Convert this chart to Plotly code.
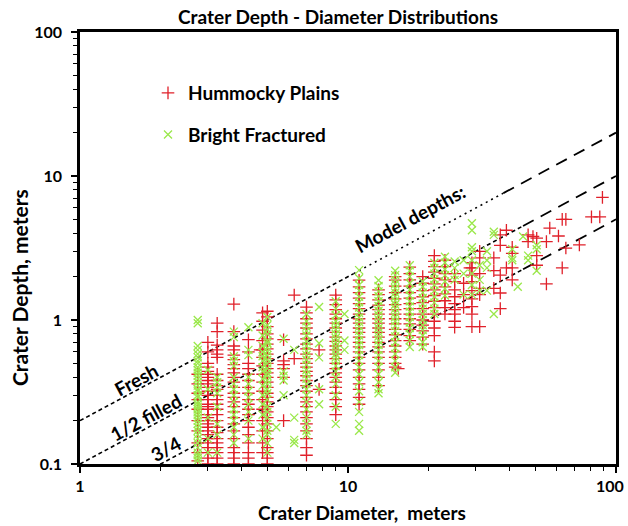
import math
import plotly.graph_objects as go

# ---------------- data ----------------
hummocky_diam = [2.75, 3.0, 3.25, 3.75, 4.25, 4.7, 4.8, 5.0, 5.75, 6.3, 7.0, 7.8, 9.0,
                 11.0, 13.0, 15.0, 15.4, 17.0, 19.0, 21.0, 23.0, 25.0, 27.0, 28.5, 29.0,
                 31.0, 35.0, 37.0, 39.0, 41.0, 47.0, 49.0, 50.6, 55.0, 56.6, 61.0, 63.0,
                 65.0, 73.0, 81.0, 87.0, 89.0]
hummocky_depths = [
    [0.42, 0.36, 0.31, 0.28, 0.24, 0.20, 0.17, 0.14, 0.12, 0.105],
    [0.70, 0.60, 0.50, 0.47, 0.44, 0.42, 0.40, 0.38, 0.36, 0.34, 0.32, 0.30, 0.28, 0.26, 0.25,
     0.24, 0.22, 0.21, 0.20, 0.19, 0.18, 0.17, 0.16, 0.15, 0.14, 0.13, 0.12, 0.11, 0.10],
    [0.95, 0.83, 0.67, 0.62, 0.58, 0.55, 0.42, 0.38, 0.35, 0.33, 0.30, 0.28, 0.26, 0.24, 0.22,
     0.20, 0.18, 0.165, 0.15, 0.14, 0.13, 0.12, 0.11, 0.10],
    [1.29, 0.83, 0.66, 0.62, 0.57, 0.53, 0.49, 0.46, 0.43, 0.40, 0.37, 0.34, 0.31, 0.29, 0.27,
     0.25, 0.23, 0.21, 0.19, 0.17, 0.15, 0.13, 0.12, 0.11, 0.10],
    [0.73, 0.60, 0.50, 0.46, 0.42, 0.38, 0.34, 0.31, 0.28, 0.26, 0.24, 0.22, 0.20, 0.18, 0.16,
     0.14, 0.12, 0.11, 0.10],
    [0.62],
    [1.12, 0.98, 0.85, 0.72, 0.62, 0.55, 0.48, 0.42, 0.37, 0.32, 0.28, 0.24, 0.20, 0.17, 0.14, 0.12],
    [1.15, 1.05, 0.90, 0.80, 0.74, 0.68, 0.63, 0.58, 0.54, 0.50, 0.46, 0.43, 0.40, 0.37, 0.34,
     0.31, 0.29, 0.27, 0.25, 0.23, 0.21, 0.19, 0.17, 0.15, 0.13, 0.12, 0.11, 0.10],
    [0.73, 0.52, 0.49, 0.46, 0.40, 0.20],
    [1.49, 0.54],
    [1.23, 1.12, 1.02, 0.95, 0.88, 0.80, 0.74, 0.68, 0.63, 0.58, 0.54, 0.50, 0.47, 0.44, 0.41,
     0.38, 0.35, 0.32, 0.29, 0.27, 0.25, 0.23, 0.21, 0.19, 0.17, 0.15, 0.13, 0.115],
    [0.62, 0.33],
    [1.49, 1.38, 1.28, 1.18, 1.10, 1.02, 0.95, 0.88, 0.82, 0.76, 0.71, 0.66, 0.62, 0.58, 0.54,
     0.50, 0.46, 0.43, 0.40, 0.37, 0.34, 0.31, 0.28, 0.25, 0.22],
    [1.89, 1.70, 1.55, 1.42, 1.30, 1.20, 1.10, 1.02, 0.95, 0.88, 0.82, 0.76, 0.70, 0.65, 0.60,
     0.55, 0.50, 0.45, 0.40, 0.36, 0.33, 0.29, 0.26],
    [1.62, 1.50, 1.38, 1.27, 1.18, 1.10, 1.02, 0.95, 0.88, 0.82, 0.76, 0.70, 0.65, 0.60, 0.55,
     0.50, 0.45, 0.40, 0.35],
    [2.00, 1.89, 1.72, 1.55, 1.40, 1.28, 1.18, 1.10, 1.02, 0.94, 0.86, 0.79, 0.72, 0.66, 0.60,
     0.55, 0.50, 0.47],
    [0.46],
    [2.33, 2.10, 1.90, 1.72, 1.55, 1.42, 1.30, 1.20, 1.10, 1.02, 0.94, 0.86, 0.78, 0.72],
    [2.00, 1.80, 1.60, 1.45, 1.32, 1.20, 1.10, 1.00, 0.92, 0.84, 0.76, 0.68],
    [2.80, 2.55, 2.35, 2.15, 1.95, 1.78, 1.62, 1.48, 1.35, 1.22, 1.10, 0.98, 0.88, 0.78, 0.60, 0.52],
    [2.60, 2.35, 2.10, 1.90, 1.70, 1.52, 1.36, 1.22, 1.10],
    [2.10, 1.85, 1.62, 1.45, 1.30, 1.18, 1.10, 0.98, 0.89],
    [1.80, 1.50, 1.22],
    [2.30],
    [2.50, 2.30, 2.05, 1.85, 1.60, 1.40, 1.24, 1.10, 0.90],
    [3.00, 2.70, 2.10, 1.66, 1.50, 0.90],
    [2.70, 2.20, 1.66],
    [3.90, 3.30, 2.05, 1.54, 1.20],
    [4.20, 2.30],
    [3.20, 2.90, 2.30, 1.90],
    [3.90, 3.50],
    [3.80],
    [3.70, 2.80, 2.40],
    [3.50, 1.78],
    [4.35],
    [3.83],
    [5.00, 2.30],
    [5.00, 3.16],
    [3.32],
    [5.20],
    [5.20],
    [7.10],
]

bright_diam = [2.75, 3.0, 3.25, 3.75, 4.25, 4.8, 5.0, 5.4, 5.75, 6.3, 7.0, 7.8, 9.0, 9.7,
               11.0, 13.0, 15.0, 17.0, 19.0, 21.0, 23.0, 25.0, 27.0, 29.0, 31.0, 33.0,
               35.0, 41.0, 43.0, 45.0, 47.0, 50.6]
bright_depths = [
    [1.00, 0.95, 0.66, 0.62, 0.58, 0.55, 0.52, 0.50, 0.47, 0.45, 0.43, 0.41, 0.39, 0.37, 0.35,
     0.33, 0.32, 0.30, 0.29, 0.27, 0.26, 0.25, 0.24, 0.23, 0.22, 0.21, 0.20, 0.19, 0.18, 0.17,
     0.16, 0.15, 0.14, 0.13, 0.12, 0.115, 0.11, 0.105],
    [0.45, 0.33, 0.21, 0.15, 0.12],
    [0.40, 0.37, 0.34, 0.31, 0.25, 0.19, 0.16, 0.12],
    [0.83, 0.76, 0.56, 0.52, 0.48, 0.40, 0.36, 0.33, 0.30, 0.27, 0.24, 0.22, 0.20, 0.18, 0.16, 0.14],
    [0.89, 0.62, 0.57, 0.40, 0.36, 0.32, 0.29, 0.26, 0.23, 0.20, 0.15],
    [0.95, 0.78, 0.66, 0.60, 0.56, 0.52, 0.47, 0.44, 0.39, 0.35, 0.30, 0.26, 0.22, 0.18, 0.15],
    [1.05, 0.92, 0.86, 0.80, 0.72, 0.69, 0.64, 0.61, 0.57, 0.53, 0.50, 0.46, 0.43, 0.41, 0.38,
     0.36, 0.33, 0.31, 0.28, 0.25, 0.23, 0.21, 0.19, 0.17, 0.16, 0.14, 0.12],
    [0.18],
    [0.74, 0.44, 0.41, 0.38, 0.30],
    [0.62, 0.21, 0.147, 0.14],
    [1.10, 0.98, 0.90, 0.84, 0.78, 0.71, 0.66, 0.61, 0.57, 0.53, 0.49, 0.45, 0.42, 0.39, 0.36,
     0.33, 0.30, 0.27, 0.24, 0.21, 0.19, 0.17, 0.16],
    [1.23, 0.69, 0.55, 0.33, 0.26],
    [1.35, 1.20, 1.08, 0.98, 0.92, 0.86, 0.80, 0.75, 0.70, 0.66, 0.62, 0.58, 0.55, 0.52, 0.48,
     0.44, 0.40, 0.36, 0.30, 0.25, 0.19],
    [1.10, 0.72, 0.62],
    [2.22, 1.95, 1.75, 1.60, 1.45, 1.33, 1.22, 1.12, 1.04, 0.97, 0.90, 0.84, 0.78, 0.72, 0.67,
     0.62, 0.57, 0.52, 0.47, 0.42, 0.37, 0.32, 0.27, 0.23, 0.19, 0.17],
    [1.89, 1.72, 1.58, 1.46, 1.35, 1.25, 1.16, 1.08, 1.01, 0.94, 0.88, 0.82, 0.77, 0.72, 0.67,
     0.62, 0.57, 0.52, 0.47, 0.42, 0.37, 0.33, 0.31],
    [2.20, 2.05, 1.90, 1.78, 1.66, 1.55, 1.45, 1.36, 1.28, 1.20, 1.12, 1.05, 0.98, 0.91, 0.84,
     0.77, 0.70, 0.64, 0.58, 0.52, 0.47, 0.43],
    [2.40, 2.20, 2.00, 1.80, 1.62, 1.48, 1.35, 1.24, 1.14, 1.05, 0.96, 0.88, 0.80, 0.72, 0.65],
    [1.85, 1.70, 1.55, 1.42, 1.30, 1.20, 1.10, 1.00, 0.92, 0.85, 0.78, 0.70, 0.65],
    [2.50, 2.30, 2.10, 1.92, 1.75, 1.60, 1.45, 1.32, 1.20, 1.10],
    [2.75, 2.50, 2.25, 2.05, 1.85, 1.65, 1.48],
    [2.55, 2.30, 2.05, 1.90],
    [2.60, 2.10, 1.50],
    [4.70, 4.20, 3.20, 3.00, 2.60, 2.10, 1.75, 1.50],
    [2.40, 1.90, 1.60],
    [3.00, 2.60, 2.30, 1.60],
    [4.10, 3.90, 1.10],
    [3.10, 2.70, 2.60],
    [1.70],
    [3.80],
    [2.80, 2.60],
    [3.30, 3.10, 2.20],
]

# model depth/diameter ratios and the diameters where the dash style changes
model_labels = ["Fresh", "1/2 filled", "3/4"]
model_ratios = [0.2, 0.1, 0.05]
model_breaks = [[1, 10.5, 38, 100], [1, 45, 100], [1, 45, 100]]

x_ticks = [1, 10, 100]
y_ticks = [0.1, 1, 10, 100]

# ---------------- styles ----------------
RED = "#E0202A"
GREEN = "#9AE84A"
FONT = "Lato"
SHORT, DOT, LONG = "4px,3px", "2px,4px", "12px,8px"
model_dashes = [[SHORT, DOT, LONG], [SHORT, LONG], [SHORT, LONG]]


def flatten(diams, depths):
    xs, ys = [], []
    for d, col in zip(diams, depths):
        for v in col:
            xs.append(d)
            ys.append(v)
    return xs, ys


def bold(size):
    return dict(family=FONT, size=size, color="black", weight="bold")


fig = go.Figure()

# model lines
for ratio, breaks, dashes in zip(model_ratios, model_breaks, model_dashes):
    for i, dash in enumerate(dashes):
        xs = [breaks[i], breaks[i + 1]]
        fig.add_trace(go.Scatter(
            x=xs, y=[ratio * v for v in xs], mode="lines",
            line=dict(color="black", width=1.6 if dash != LONG else 1.8, dash=dash),
            showlegend=False, hoverinfo="skip"))

hx, hy = flatten(hummocky_diam, hummocky_depths)
bx, by = flatten(bright_diam, bright_depths)

fig.add_trace(go.Scatter(
    x=hx, y=hy, mode="markers", name="Hummocky Plains", legendgroup="h",
    marker=dict(symbol="cross-thin", size=9, color=RED, line=dict(color=RED, width=1.3))))
fig.add_trace(go.Scatter(
    x=bx, y=by, mode="markers", name="Bright Fractured", legendgroup="b",
    marker=dict(symbol="x-thin", size=8, color=GREEN, line=dict(color=GREEN, width=1.3))))

L, R, T, B = 80, 12, 32, 62
W, H = 628, 526
pw, ph = W - L - R, H - T - B


def px_to_paper(px, py):
    return (px - L) / pw, (H - B - py) / ph


axis_common = dict(
    type="log", showline=True, linewidth=2.5, linecolor="black", mirror=True,
    showgrid=False, zeroline=False, ticks="outside", ticklen=6, tickwidth=1.5,
    tickcolor="black", tickfont=bold(16), automargin=False,
    minor=dict(ticks="outside", ticklen=4, tickwidth=1.2, tickcolor="black", dtick="D1",
               showgrid=False),
)

# the last x label ("100") sits flush with the chart's right edge, so it is placed as text
x_ticktext = [str(v) for v in x_ticks[:-1]] + [""]
fig.update_xaxes(range=[0, 2], tickvals=x_ticks, ticktext=x_ticktext,
                 ticklabelstandoff=0, **axis_common)
fig.update_yaxes(range=[-1, 2], tickvals=y_ticks, ticktext=[str(v) for v in y_ticks],
                 ticklabelstandoff=6, **axis_common)

annotations = []
ang = -math.degrees(math.atan((ph / 3) / (pw / 2)))
label_pos = [(1.62, 0.389), (1.75, 0.212), (2.09, 0.129)]
for text, (d, v) in zip(model_labels, label_pos):
    annotations.append(dict(x=math.log10(d), y=math.log10(v), xref="x", yref="y",
                            xanchor="center", yanchor="middle",
                            text=text, showarrow=False, textangle=ang, font=bold(19)))
annotations.append(dict(x=math.log10(17.0), y=math.log10(5.1), xref="x", yref="y",
                        xanchor="center", yanchor="middle",
                        text="Model depths:", showarrow=False, textangle=ang, font=bold(19)))

last = px_to_paper(626, 486)
annotations.append(dict(x=last[0], y=last[1], xref="paper", yref="paper",
                        xanchor="right", yanchor="middle",
                        text=str(x_ticks[-1]), showarrow=False, font=bold(16)))

xt = px_to_paper(362, 512)
annotations.append(dict(x=xt[0], y=xt[1], xref="paper", yref="paper",
                        xanchor="center", yanchor="middle",
                        text="Crater Diameter,  meters", showarrow=False, font=bold(19)))
yt = px_to_paper(19, 288)
annotations.append(dict(x=yt[0], y=yt[1], xref="paper", yref="paper",
                        xanchor="center", yanchor="middle",
                        text="Crater Depth, meters", showarrow=False, textangle=-90,
                        font=bold(21)))

lg = px_to_paper(148, 74)
fig.update_layout(
    width=W, height=H, margin=dict(l=L, r=R, t=T, b=B),
    paper_bgcolor="white", plot_bgcolor="white",
    title=dict(text="Crater Depth - Diameter Distributions", x=(338 - L) / pw, xref="paper",
               xanchor="center", y=1 - 17 / H, yanchor="middle", font=bold(19)),
    legend=dict(x=lg[0], y=lg[1], xanchor="left", yanchor="top", bgcolor="rgba(0,0,0,0)",
                font=bold(19), tracegroupgap=14, itemwidth=30),
    annotations=annotations,
)

fig.write_html("out.html")
